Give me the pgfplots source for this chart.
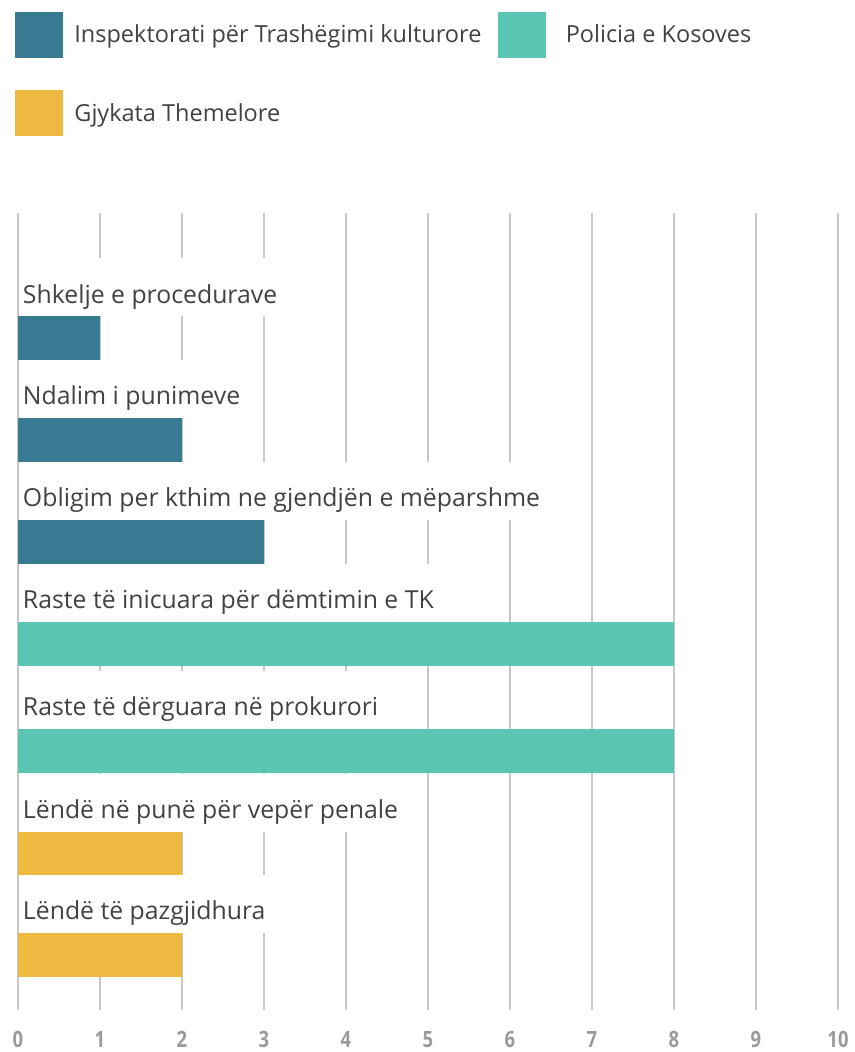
\documentclass[border=0pt]{standalone}
\usepackage{fontspec}
\setmainfont{Open Sans}
\newfontfamily\tickfont[FakeStretch=0.82]{Open Sans}
\usepackage{pgfplots}
\pgfplotsset{compat=1.18}
\definecolor{c1}{HTML}{377A92}
\definecolor{c2}{HTML}{5BC5B4}
\definecolor{c3}{HTML}{EDB941}
\definecolor{txt}{HTML}{424242}
\definecolor{tick}{HTML}{9A9A9A}
\definecolor{grd}{HTML}{C8C8C8}
\begin{document}
\begin{tikzpicture}[
  lbl/.style={anchor=south west, fill=white, inner xsep=4bp, inner ysep=0pt,
    text depth=13bp, text height=45bp, xshift=0.8bp, text=txt,
    font=\fontsize{24.8bp}{28bp}\selectfont}]
\begin{axis}[name=ax, scale only axis, width=820bp, height=797bp,
  xmin=0, xmax=10, ymin=213, ymax=1010, y dir=reverse,
  axis line style={draw=none}, ytick=\empty, xtick={0,1,...,10},
  major tick length=0pt, xmajorgrids,
  grid style={color=grd, line width=1.3bp},
  clip=false,
  /pgf/number format/assume math mode=true,
  xticklabel style={font=\tickfont\bfseries\fontsize{22.5bp}{23bp}\selectfont, text=tick, yshift=-18bp},
  legend style={at={(axis description cs:0,1)}, anchor=north west,
    xshift=-3bp, yshift=201bp, draw=none, inner sep=0pt, outer sep=0pt,
    font=\fontsize{23.5bp}{27bp}\selectfont, text=txt,
    nodes={inner sep=0pt, anchor=west},
    row sep=33bp,
    /tikz/column 1/.style={column sep=12bp},
    /tikz/column 2/.style={column sep=17bp},
    /tikz/column 3/.style={column sep=20bp}},
  legend columns=2, legend cell align=left]
\addlegendimage{legend image code/.code={\fill[c1] (0bp,-22.5bp) rectangle (47bp,22.5bp);}}
\addlegendentry{Inspektorati për Trashëgimi kulturore}
\addlegendimage{legend image code/.code={\fill[c2] (0bp,-22.5bp) rectangle (47bp,22.5bp);}}
\addlegendentry{Policia e Kosoves}
\addlegendimage{legend image code/.code={\fill[c3] (0bp,-22.5bp) rectangle (47bp,22.5bp);}}
\addlegendentry{Gjykata Themelore}
\addplot[xbar, bar shift=0pt, bar width=44bp, fill=c1, draw=none, forget plot] coordinates {(1,338.5)};
\addplot[xbar, bar shift=0pt, bar width=44bp, fill=c1, draw=none, forget plot] coordinates {(2,440)};
\addplot[xbar, bar shift=0pt, bar width=44bp, fill=c1, draw=none, forget plot] coordinates {(3,542)};
\addplot[xbar, bar shift=0pt, bar width=44bp, fill=c2, draw=none, forget plot] coordinates {(8,644)};
\addplot[xbar, bar shift=0pt, bar width=44bp, fill=c2, draw=none, forget plot] coordinates {(8,751)};
\addplot[xbar, bar shift=0pt, bar width=44bp, fill=c3, draw=none, forget plot] coordinates {(2,854)};
\addplot[xbar, bar shift=0pt, bar width=44bp, fill=c3, draw=none, forget plot] coordinates {(2,955)};
\node[lbl] at (axis cs:0,316.5) {Shkelje e procedurave};
\node[lbl] at (axis cs:0,418) {Ndalim i punimeve};
\node[lbl] at (axis cs:0,520) {Obligim per kthim ne gjendjën e mëparshme};
\node[lbl] at (axis cs:0,622) {Raste të inicuara për dëmtimin e TK};
\node[lbl] at (axis cs:0,729) {Raste të dërguara në prokurori};
\node[lbl] at (axis cs:0,832) {Lëndë në punë për vepër penale};
\node[lbl] at (axis cs:0,933) {Lëndë të pazgjidhura};
\end{axis}
\pgfresetboundingbox
\path ([xshift=-18bp,yshift=-42bp]ax.south west) rectangle ([xshift=17bp,yshift=213bp]ax.north east);
\end{tikzpicture}
\end{document}
